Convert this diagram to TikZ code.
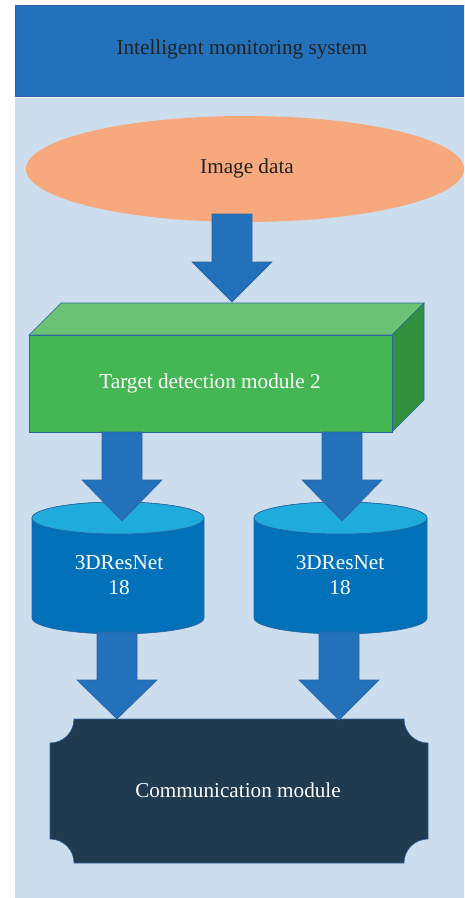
\documentclass[tikz,border=0pt]{standalone}
\usepackage{fontspec}
\setmainfont{Liberation Serif}
\definecolor{barblue}{HTML}{2271BA}
\definecolor{panel}{HTML}{CCDEEE}
\definecolor{edgeblue}{HTML}{2E64A0}
\definecolor{salmon}{HTML}{F7A87C}
\definecolor{greenfront}{HTML}{44B653}
\definecolor{greentop}{HTML}{6BC174}
\definecolor{greenside}{HTML}{31903E}
\definecolor{cyltop}{HTML}{1FACDC}
\definecolor{cylbody}{HTML}{0171BA}
\definecolor{navy}{HTML}{203A4F}
\definecolor{inkdark}{HTML}{222222}
\tikzset{
  lbl/.style={font=\fontsize{21.2}{25}\selectfont, align=center, inner sep=0pt},
  darklbl/.style={lbl, text=inkdark},
  lightlbl/.style={lbl, text=white},
  flow/.style={fill=barblue, draw=edgeblue, line width=0.6pt, line join=miter},
  edge/.style={draw=edgeblue, line width=0.6pt}
}
% block arrow: centre x, shaft top, neck, tip (all y measured downward)
\newcommand\blockarrow[4]{%
  \path[flow] (#1-20,-#2) -- (#1+20,-#2) -- (#1+20,-#3) -- (#1+40,-#3)
    -- (#1,-#4) -- (#1-40,-#3) -- (#1-20,-#3) -- cycle;}
% cylinder: left x, right x, top-centre y, bottom-centre y
\newcommand\cylinder[4]{%
  \pgfmathsetmacro\cx{(#1+#2)/2}\pgfmathsetmacro\rx{(#2-#1)/2}%
  \path[edge, fill=cylbody] (#1,-#3) -- (#1,-#4)
    arc[start angle=180, end angle=360, x radius=\rx, y radius=16]
    -- (#2,-#3) arc[start angle=0, end angle=180, x radius=\rx, y radius=16] -- cycle;
  \path[edge, fill=cyltop] (\cx,-#3) ellipse[x radius=\rx, y radius=16];}
\begin{document}
\begin{tikzpicture}[x=1pt, y=1pt]
  \useasboundingbox (0,0) rectangle (464,-898);
  \fill[white] (0,0) rectangle (464,-898);
  \clip (0,0) rectangle (464,-898);

  % header bar and panel
  \path[fill=barblue, draw=edgeblue, line width=0.6pt] (15,-5) rectangle (466,-96);
  \fill[panel] (15,-98) rectangle (466,-900);
  \node[darklbl] (title) at (242,-49) {Intelligent monitoring system};

  % image data source
  \path[fill=salmon] (245,-169) ellipse[x radius=219, y radius=53];
  \node[darklbl] (img) at (247,-168) {Image data};

  % arrow into detection module
  \blockarrow{232}{214}{262}{302}

  % detection module (3D box)
  \path[edge, fill=greentop] (29,-335) -- (61,-303) -- (424,-303) -- (392,-335) -- cycle;
  \path[edge, fill=greenside] (392,-335) -- (424,-303) -- (424,-400) -- (392,-432) -- cycle;
  \path[edge, fill=greenfront] (29,-335) rectangle (392,-432);
  \node[lightlbl] (det) at (210,-383) {Target detection module 2};

  % two 3DResNet branches
  \cylinder{32}{204}{518}{618}
  \cylinder{254}{427}{518}{618}
  \node[lightlbl] (netA) at (119,-575) {3DResNet\\18};
  \node[lightlbl] (netB) at (340,-575) {3DResNet\\18};

  \blockarrow{122}{432}{480}{521}
  \blockarrow{342}{432}{480}{521}

  % communication module
  \path[edge, fill=navy] (74,-719) -- (404,-719)
    arc[start angle=180, end angle=270, radius=24] -- (428,-839)
    arc[start angle=90, end angle=180, radius=24] -- (74,-863)
    arc[start angle=0, end angle=90, radius=24] -- (50,-743)
    arc[start angle=270, end angle=360, radius=24] -- cycle;
  \node[lightlbl] (comm) at (238,-790) {Communication module};

  \blockarrow{117}{632}{680}{719}
  \blockarrow{339}{632}{680}{720}
\end{tikzpicture}
\end{document}
